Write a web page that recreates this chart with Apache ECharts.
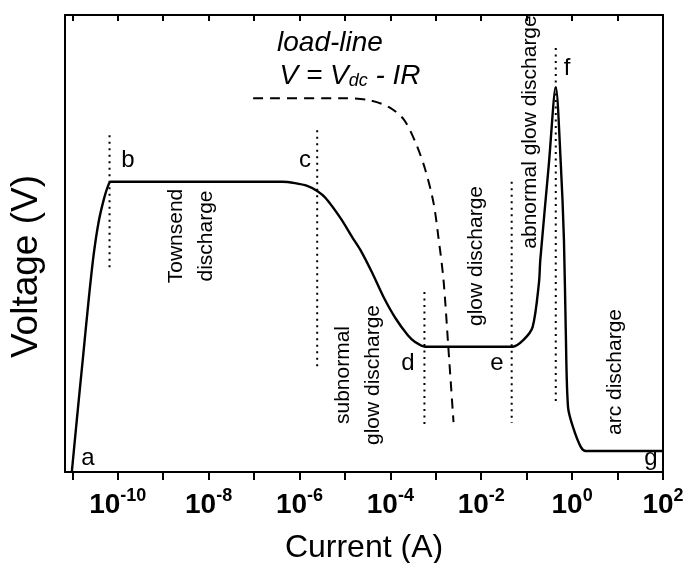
<!DOCTYPE html>
<html>
<head>
<meta charset="utf-8">
<script src="https://cdn.jsdelivr.net/npm/echarts@6/dist/echarts.min.js"></script>
<style>
  html, body { margin: 0; padding: 0; background: #fff; }
  #chart { width: 686px; height: 563px; }
</style>
</head>
<body>
<div id="chart"></div>
<script>
// x: log10 of current (A), y: voltage in arbitrary units (0 = bottom, 100 = top)
const curveLogI = [-11.01, -10.90, -10.77, -10.64, -10.53, -10.42, -10.31, -10.22, -10.15,
  -6.38, -6.10, -5.83, -5.61, -5.43, -5.10, -4.84, -4.66, -4.40, -4.15, -3.89, -3.62, -3.45, -3.23,
  -1.31, -1.07, -0.87, -0.73, -0.70, -0.51, -0.36, -0.25, -0.18, -0.14, -0.09, 0.02, 0.19, 0.30, 2.0];
const curveVolt = [0, 11.4, 24.5, 37.6, 47.5, 54.7, 59.5, 62.4, 63.5,
  63.5, 63.2, 62.6, 61.5, 60.0, 55.6, 51.4, 48.6, 43.6, 38.3, 33.7, 30.0, 28.4, 27.4,
  27.4, 28.9, 31.7, 41.4, 46.4, 67.6, 84.2, 67.6, 50.8, 31.1, 14.2, 9.8, 5.5, 4.6, 4.6];

const loadLogI = [-7.02, -4.99, -4.48, -4.04, -3.71, -3.45, -3.23, -3.05, -2.94, -2.83, -2.72, -2.61];
const loadVolt = [81.8, 81.8, 81.4, 79.9, 77.2, 72.2, 66.1, 58.9, 51.2, 42.0, 26.7, 10.9];

// dotted markers at b, c, d, e, f
const markLogI = [-10.18, -5.61, -3.25, -1.33, -0.36];
const markTop = [73.7, 74.8, 39.4, 63.5, 92.8];
const markBottom = [44.2, 22.8, 9.8, 10.7, 15.1];

const tickExps = [-11, -10, -9, -8, -7, -6, -5, -4, -3, -2, -1, 0, 1, 2];
const labelExps = [-10, -8, -6, -4, -2, 0, 2];

const FONT = "'Liberation Sans', Arial, sans-serif";

const chart = echarts.init(document.getElementById('chart'));

const markSeries = markLogI.map((x, i) => ({
  type: 'line',
  data: [[x, markTop[i]], [x, markBottom[i]]],
  symbol: 'none',
  silent: true,
  lineStyle: { color: '#000', width: 2, type: [2, 4.5] },
}));

const frameLine = { show: true, onZero: false, lineStyle: { color: '#000', width: 2 } };

function rotText(text, x, y) {
  return {
    type: 'text',
    x: x,
    y: y,
    rotation: Math.PI / 2,
    style: {
      text: text,
      x: 0,
      y: 0,
      align: 'center',
      verticalAlign: 'middle',
      fontFamily: FONT,
      fontSize: 21,
      lineHeight: 30,
      fill: '#000',
    },
  };
}

function letter(text, x, y) {
  return {
    type: 'text',
    x: x,
    y: y,
    style: {
      text: text,
      x: 0,
      y: 0,
      align: 'center',
      verticalAlign: 'middle',
      fontFamily: FONT,
      fontSize: 24,
      fill: '#000',
    },
  };
}

const option = {
  animation: false,
  grid: { left: 65, right: 23, top: 15, bottom: 91, outerBoundsMode: 'none' },
  xAxis: [
    {
      type: 'value',
      position: 'bottom',
      min: -11.16,
      max: 2,
      axisLine: frameLine,
      axisTick: { show: true, length: 8, customValues: tickExps, lineStyle: { color: '#000', width: 2 } },
      axisLabel: {
        customValues: labelExps,
        margin: 15,
        formatter: (v) => `{b|10}{s|${v}}`,
        rich: {
          b: { fontFamily: FONT, fontSize: 28, fontWeight: 'bold', color: '#000', lineHeight: 32, verticalAlign: 'bottom' },
          s: { fontFamily: FONT, fontSize: 18, fontWeight: 'bold', color: '#000', lineHeight: 18, verticalAlign: 'top' },
        },
      },
      splitLine: { show: false },
      name: 'Current (A)',
      nameLocation: 'middle',
      nameGap: 60,
      nameTextStyle: { fontFamily: FONT, fontSize: 32, color: '#000' },
    },
    {
      type: 'value',
      position: 'top',
      min: -11.16,
      max: 2,
      axisLine: frameLine,
      axisTick: { show: true, inside: true, length: 6, customValues: tickExps, lineStyle: { color: '#000', width: 2 } },
      axisLabel: { show: false },
      splitLine: { show: false },
    },
  ],
  yAxis: [
    {
      type: 'value',
      position: 'left',
      min: 0,
      max: 100,
      axisLine: frameLine,
      axisTick: { show: false },
      axisLabel: { show: false },
      splitLine: { show: false },
      name: 'Voltage (V)',
      nameLocation: 'middle',
      nameRotate: 90,
      nameGap: 20,
      nameTextStyle: { fontFamily: FONT, fontSize: 37, color: '#000', padding: [0, 46, 0, 0] },
    },
    {
      type: 'value',
      position: 'right',
      min: 0,
      max: 100,
      axisLine: frameLine,
      axisTick: { show: false },
      axisLabel: { show: false },
      splitLine: { show: false },
    },
  ],
  series: [
    {
      type: 'line',
      data: curveLogI.map((x, i) => [x, curveVolt[i]]),
      symbol: 'none',
      smooth: 0.3,
      lineStyle: { color: '#000', width: 2.4 },
    },
    {
      type: 'line',
      data: loadLogI.map((x, i) => [x, loadVolt[i]]),
      symbol: 'none',
      smooth: 0.3,
      lineStyle: { color: '#000', width: 2, type: [10, 7] },
    },
    ...markSeries,
  ],
  graphic: [
    letter('a', 88, 458),
    letter('b', 128, 160),
    letter('c', 305, 160),
    letter('d', 408, 363),
    letter('e', 497, 363),
    letter('f', 567, 68),
    letter('g', 651, 458),
    {
      type: 'text',
      x: 330,
      y: 43,
      style: {
        text: 'load-line', x: 0, y: 0, align: 'center', verticalAlign: 'middle',
        fontFamily: FONT, fontSize: 28, fontStyle: 'italic', fill: '#000',
      },
    },
    {
      type: 'text',
      x: 350,
      y: 74,
      style: {
        text: '{m|V = V}{sub|dc}{m| - IR}', x: 0, y: 0, align: 'center', verticalAlign: 'middle',
        rich: {
          m: { fontFamily: FONT, fontSize: 28, fontStyle: 'italic', fill: '#000', lineHeight: 32, verticalAlign: 'bottom' },
          sub: { fontFamily: FONT, fontSize: 18, fontStyle: 'italic', fill: '#000', lineHeight: 22, verticalAlign: 'bottom' },
        },
      },
    },
    rotText('Townsend\ndischarge', 191, 236),
    rotText('subnormal\nglow discharge', 358, 375),
    rotText('glow discharge', 476, 256),
    rotText('abnormal glow discharge', 530, 132),
    rotText('arc discharge', 615, 372),
  ],
};

chart.setOption(option);
</script>
</body>
</html>
